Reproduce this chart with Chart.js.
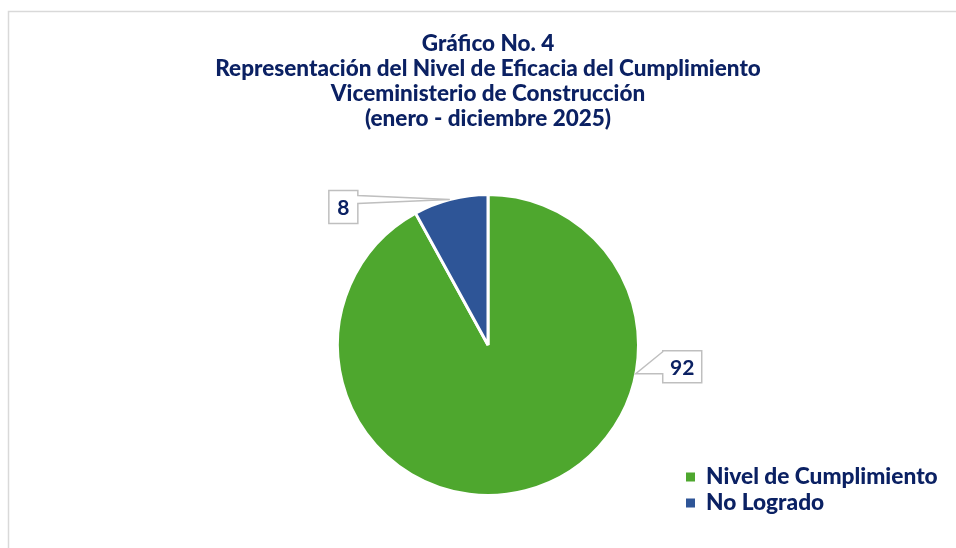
<!DOCTYPE html>
<html>
<head>
<meta charset="utf-8">
<script src="https://cdn.jsdelivr.net/npm/chart.js@4.4.1/dist/chart.umd.min.js"></script>
<style>
html,body{margin:0;padding:0;background:#fff;}
#wrap{position:relative;width:956px;height:548px;}
canvas{display:block;}
</style>
</head>
<body>
<div id="wrap"><canvas id="c" width="956" height="548"></canvas></div>
<script>
const categories = ["Nivel de Cumplimiento", "No Logrado"];
const values = [92, 8];
const colors = ["#4EA72E", "#2E5597"];
const titleLines = ["Gráfico No. 4", "Representación del Nivel de Eficacia del Cumplimiento", "Viceministerio de Construcción", "(enero - diciembre 2025)"];

const NAVY = "#0B2163";
const FONT = "Lato, 'Open Sans', sans-serif";

// callout label placement (fraction along the slice, box geometry relative to anchor)
const calloutCfg = [
  {frac: 0.305, box: {dx: 27, dy: -23, w: 39, h: 32}, tail: [-9, 1]},
  {frac: 0.49,  box: {dx: -121, dy: -9, w: 29, h: 33}, tail: [5, 13]}
];

const decorPlugin = {
  id: 'decor',
  beforeDraw(chart) {
    const ctx = chart.ctx;
    ctx.save();
    ctx.strokeStyle = '#D9D9D9';
    ctx.lineWidth = 1.5;
    ctx.beginPath();
    ctx.moveTo(8.5, 560);
    ctx.lineTo(8.5, 11.5);
    ctx.lineTo(970, 11.5);
    ctx.stroke();
    // title
    ctx.fillStyle = NAVY;
    ctx.font = "900 22.5px " + FONT;
    ctx.textAlign = 'center';
    ctx.textBaseline = 'middle';
    titleLines.forEach((t, i) => ctx.fillText(t, 488, 44 + i * 25));
    ctx.restore();
  },
  afterDraw(chart) {
    const ctx = chart.ctx;
    const meta = chart.getDatasetMeta(0);
    ctx.save();
    meta.data.forEach((arc, i) => {
      const cfg = calloutCfg[i];
      const p = arc.getProps(['x', 'y', 'startAngle', 'endAngle', 'outerRadius'], true);
      const a = p.startAngle + (p.endAngle - p.startAngle) * cfg.frac;
      const ax = p.x + Math.cos(a) * p.outerRadius;
      const ay = p.y + Math.sin(a) * p.outerRadius;
      const bx = ax + cfg.box.dx, by = ay + cfg.box.dy;
      const bw = cfg.box.w, bh = cfg.box.h;
      ctx.strokeStyle = '#BFBFBF';
      ctx.lineWidth = 1.5;
      ctx.fillStyle = '#fff';
      ctx.beginPath();
      if (ax > bx + bw) {
        ctx.moveTo(bx, by);
        ctx.lineTo(bx + bw, by);
        ctx.lineTo(bx + bw, by + cfg.tail[0]);
        ctx.lineTo(ax, ay);
        ctx.lineTo(bx + bw, by + cfg.tail[1]);
        ctx.lineTo(bx + bw, by + bh);
        ctx.lineTo(bx, by + bh);
        ctx.closePath();
      } else {
        ctx.moveTo(bx, by);
        ctx.lineTo(bx + bw, by);
        ctx.lineTo(bx + bw, by + bh);
        ctx.lineTo(bx, by + bh);
        ctx.lineTo(bx, by + bh + cfg.tail[0]);
        ctx.lineTo(ax, ay);
        ctx.lineTo(bx, by + bh + cfg.tail[1] - bh);
        ctx.closePath();
      }
      ctx.fill();
      ctx.stroke();
      ctx.fillStyle = NAVY;
      ctx.font = "bold 21px " + FONT;
      ctx.textAlign = 'center';
      ctx.textBaseline = 'middle';
      ctx.fillText(String(values[i]), bx + bw / 2, by + bh / 2 + 1);
    });
    // legend
    ctx.font = "900 22.7px " + FONT;
    ctx.textAlign = 'left';
    ctx.textBaseline = 'middle';
    categories.forEach((c, i) => {
      const y = 477 + i * 26;
      ctx.fillStyle = colors[i];
      ctx.fillRect(686, y - 4.5, 9, 9);
      ctx.fillStyle = NAVY;
      ctx.fillText(c, 706, y);
    });
    ctx.restore();
  }
};

new Chart(document.getElementById('c'), {
  type: 'pie',
  data: {
    labels: categories,
    datasets: [{
      data: values,
      backgroundColor: colors,
      borderColor: '#ffffff',
      borderWidth: 3,
      hoverOffset: 0
    }]
  },
  options: {
    responsive: false,
    animation: false,
    events: [],
    layout: {padding: {left: 336, right: 316, top: 192, bottom: 50}},
    plugins: {
      legend: {display: false},
      title: {display: false},
      tooltip: {enabled: false}
    }
  },
  plugins: [decorPlugin]
});
</script>
</body>
</html>
